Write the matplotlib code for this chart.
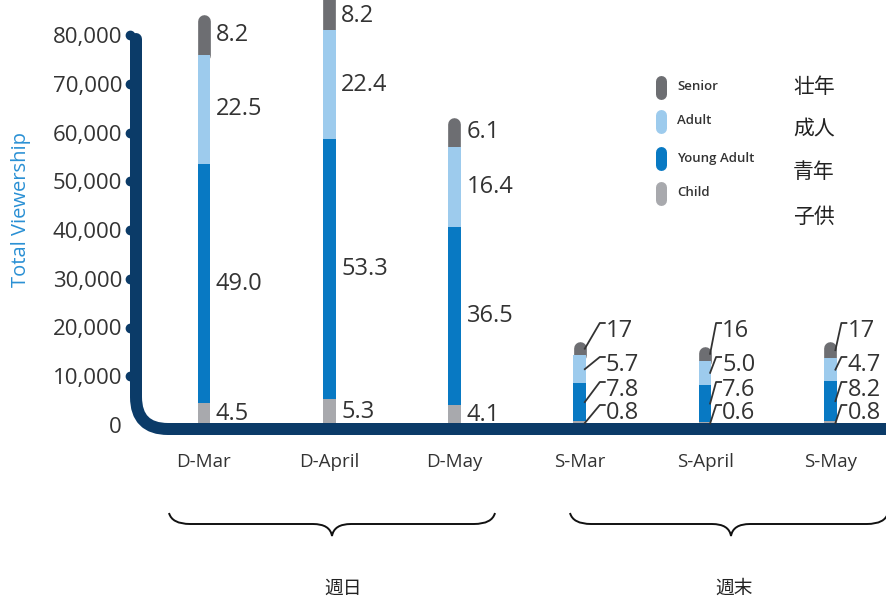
import matplotlib
matplotlib.use('Agg')
import matplotlib.pyplot as plt
import numpy as np
from matplotlib.lines import Line2D
from matplotlib.path import Path
from matplotlib.patches import PathPatch

plt.rcParams['font.family'] = ['Open Sans', 'Noto Sans CJK JP', 'DejaVu Sans']

W, H = 886, 599

categories = ['D-Mar', 'D-April', 'D-May', 'S-Mar', 'S-April', 'S-May']
groups = ['週日', '週末']
legend_en = ['Senior', 'Adult', 'Young Adult', 'Child']
legend_ja = ['壮年', '成人', '青年', '子供']

# viewers, in thousands
child = [4.5, 5.3, 4.1, 0.8, 0.6, 0.8]
young_adult = [49.0, 53.3, 36.5, 7.8, 7.6, 8.2]
adult = [22.5, 22.4, 16.4, 5.7, 5.0, 4.7]
senior_weekday = [8.2, 8.2, 6.1]
total_weekend = [17, 16, 17]

yticks = [0, 10000, 20000, 30000, 40000, 50000, 60000, 70000, 80000]

navy = '#0b3b68'
c_senior = '#6d6e72'
c_adult = '#9dcbed'
c_young = '#0879c3'
c_child = '#a8a9ad'
c_text = '#333333'


def fx(px):
    return px / W


def fy(py):
    return 1 - py / H


senior = senior_weekday + [t - c - y - a for t, c, y, a in
                           zip(total_weekend, child[3:], young_adult[3:], adult[3:])]

# layout in pixels: y=0 sits on row 425, 80,000 on row 35
base_px = 425
px_per_unit = (425 - 35) / 80000
bar_px = 12.7
step_px = 125.3
first_px = 203.9
left_px = 136

fig = plt.figure(figsize=(W / 100, H / 100), dpi=100)
ax = fig.add_axes([fx(left_px), fy(base_px), (W - left_px) / W, base_px / H])
ax.set_xlim((left_px - first_px) / step_px, (W - first_px) / step_px)
ax.set_ylim(0, base_px / px_per_unit)
for s in ax.spines.values():
    s.set_visible(False)
ax.patch.set_alpha(0)

x = np.arange(len(categories))
bw = bar_px / step_px
k = 1000
ch = np.array(child) * k
ya = np.array(young_adult) * k
ad = np.array(adult) * k
se = np.array(senior) * k

ax.bar(x, ch, width=bw, color=c_child, zorder=3, clip_on=False)
ax.bar(x, ya, bottom=ch, width=bw, color=c_young, zorder=3, clip_on=False)
ax.bar(x, ad, bottom=ch + ya, width=bw, color=c_adult, zorder=3, clip_on=False)
# top segment with a rounded cap
r = (bar_px / 2) / px_per_unit
tops = ch + ya + ad + se
for i in x:
    ax.plot([i, i], [ch[i] + ya[i] + ad[i], tops[i] - r], color=c_senior,
            lw=bar_px * 0.72, solid_capstyle='round', zorder=2, clip_on=False)

# weekday labels beside each segment, kept inside the figure
label_max = (base_px - 16) / px_per_unit
for i in range(3):
    bottoms = [0, ch[i], ch[i] + ya[i], ch[i] + ya[i] + ad[i]]
    heights = [ch[i], ya[i], ad[i], se[i]]
    vals = [child[i], young_adult[i], adult[i], senior[i]]
    for b, h, v in zip(bottoms, heights, vals):
        ax.annotate(f'{v:.1f}', xy=(i, min(b + h / 2, label_max)), xytext=(12, 0),
                    textcoords='offset pixels', ha='left', va='center',
                    fontsize=17, color=c_text, annotation_clip=False)

# weekend labels stacked with leader lines
fig.canvas.draw()
offsets = [12, 35, 60, 94]
label_dx = [26, 17, 17]
for i in range(3, 6):
    mids = [ch[i] / 2, ch[i] + ya[i] / 2, ch[i] + ya[i] + ad[i] / 2,
            ch[i] + ya[i] + ad[i] + se[i] / 2]
    texts = [f'{child[i]:.1f}', f'{young_adult[i]:.1f}', f'{adult[i]:.1f}',
             f'{total_weekend[i - 3]}']
    dx = label_dx[i - 3]
    cx, _ = ax.transData.transform((i, 0))
    for m, t, off in zip(mids, texts, offsets):
        ax.annotate(t, xy=(i, 0), xytext=(dx, off), textcoords='offset pixels',
                    ha='left', va='center', fontsize=17, color=c_text,
                    annotation_clip=False)
        _, my = ax.transData.transform((i, m))
        sy = H - my
        ly = base_px - off - 8
        lx = cx + dx
        fig.add_artist(Line2D([fx(cx + 5), fx(lx - 6), fx(lx - 1)],
                              [fy(sy), fy(ly), fy(ly)], color=c_text, lw=1.3,
                              transform=fig.transFigure, zorder=6))

# axis line: vertical stem curving into the baseline
rad = 32
verts = [(left_px, 39), (left_px, 429 - rad), (left_px, 429), (left_px + rad, 429), (W + 10, 429)]
codes = [Path.MOVETO, Path.LINETO, Path.CURVE3, Path.CURVE3, Path.LINETO]
axis_path = Path([(fx(a), fy(b)) for a, b in verts], codes)
fig.add_artist(PathPatch(axis_path, fill=False, lw=12 * 0.72, edgecolor=navy,
                         capstyle='round', joinstyle='round',
                         transform=fig.transFigure, zorder=5))

ax.set_yticks(yticks, labels=[f'{v:,}' for v in yticks])
ax.tick_params(axis='y', length=0, pad=10, labelsize=16, labelcolor=c_text)
ax.plot(np.full(len(yticks) - 1, -6 / (W - left_px)), yticks[1:], 'o', ms=6,
        color=navy, transform=ax.get_yaxis_transform(), clip_on=False, zorder=4)

ax.set_xticks(x, labels=categories)
ax.tick_params(axis='x', length=0, pad=20, labelsize=13.5, labelcolor=c_text)

fig.text(fx(21), fy(210), 'Total Viewership', rotation=90, ha='center',
         va='center', fontsize=14.5, color='#2a90d4')

# legend
pill_y = [87, 121, 158, 193]
pill_c = [c_senior, c_adult, c_young, c_child]
for py, c, t in zip(pill_y, pill_c, legend_en):
    fig.add_artist(Line2D([fx(661), fx(661)], [fy(py - 6.5), fy(py + 6.5)],
                          color=c, lw=11 * 0.72, solid_capstyle='round',
                          transform=fig.transFigure))
    fig.text(fx(677), fy(py), t, ha='left', va='center', fontsize=9.5,
             fontweight='semibold', color=c_text)
for py, t in zip([87, 130, 172, 217], legend_ja):
    fig.text(fx(793), fy(py), t, ha='left', va='center', fontsize=15,
             color='#222222', family=['Noto Sans CJK JP'])


# curly braces under each group
def brace(xl, xm, xr, yt=513, yh=524, yb=536):
    pts = [(xl, yt), (xl + 3, yh), (xl + 21, yh),
           (xm - 19, yh), (xm - 2, yh), (xm, yb),
           (xm + 2, yh), (xm + 19, yh),
           (xr - 21, yh), (xr - 3, yh), (xr, yt)]
    cds = [Path.MOVETO, Path.CURVE3, Path.CURVE3, Path.LINETO, Path.CURVE3,
           Path.CURVE3, Path.CURVE3, Path.CURVE3, Path.LINETO, Path.CURVE3,
           Path.CURVE3]
    p = Path([(fx(a), fy(b)) for a, b in pts], cds)
    fig.add_artist(PathPatch(p, fill=False, lw=1.4, edgecolor='#111111',
                             transform=fig.transFigure))


brace(169, 332, 495)
brace(570, 731, 888)
for gx, g in zip([343, 734], groups):
    fig.text(fx(gx), fy(588), g, ha='center', va='center', fontsize=13.5,
             color='#222222', family=['Noto Sans CJK JP'])

fig.savefig('out.png', dpi=100)
